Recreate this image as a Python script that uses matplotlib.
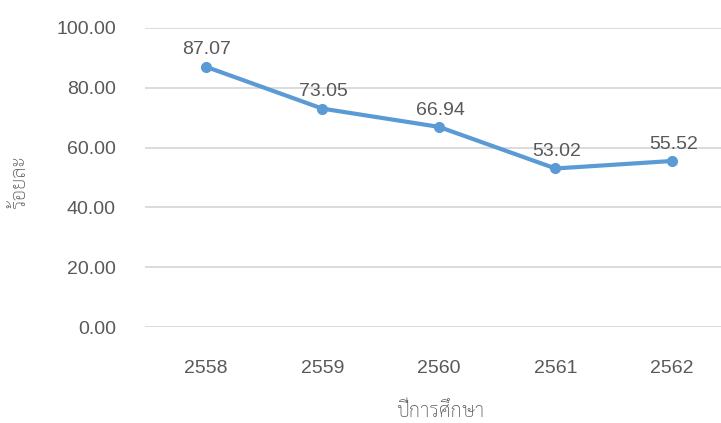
import matplotlib
matplotlib.use("Agg")
import matplotlib.pyplot as plt

years = ["2558", "2559", "2560", "2561", "2562"]
percent = [87.07, 73.05, 66.94, 53.02, 55.52]
y_ticks = [0, 20, 40, 60, 80, 100]

line_color = "#5B9BD5"
text_color = "#595959"
grid_color = "#D9D9D9"
num_font = ["Liberation Sans", "DejaVu Sans"]
thai_font = ["Sarabun", "Liberation Sans", "DejaVu Sans"]

fig = plt.figure(figsize=(7.21, 4.23), dpi=100)
ax = fig.add_axes([145 / 721, 96 / 423, 576 / 721, 299 / 423])

x = list(range(len(years)))
ax.plot(x, percent, color=line_color, linewidth=3, marker="o",
        markersize=7, solid_capstyle="round", zorder=3)
for xi, v in zip(x, percent):
    ax.annotate("{:.2f}".format(v), (xi, v), xytext=(1, 6),
                textcoords="offset points", ha="center", va="bottom",
                fontsize=14, color=text_color, family=num_font)

ax.set_ylim(0, 100)
ax.set_xlim(-0.52, 4.42)
ax.set_yticks(y_ticks)
ax.set_yticklabels(["{:.2f}".format(t) for t in y_ticks], family=num_font,
                   fontsize=14, color=text_color)
ax.set_xticks(x)
ax.set_xticklabels(years, family=num_font, fontsize=14, color=text_color)
ax.tick_params(axis="both", length=0)
ax.tick_params(axis="y", pad=21)
ax.tick_params(axis="x", pad=24)
ax.yaxis.grid(True, color=grid_color, linewidth=1.3)
ax.set_axisbelow(True)
for s in ax.spines.values():
    s.set_visible(False)

fig.text(20 / 721, 1 - 182 / 423, "ร้อยละ", rotation=90, ha="center",
         va="center", fontsize=14.5, fontweight="light", color=text_color,
         family=thai_font)
fig.text(440 / 721, 1 - 411 / 423, "ปีการศึกษา", ha="center", va="center",
         fontsize=14.5, fontweight="light", color=text_color,
         family=thai_font)

fig.savefig("out.png", dpi=100)
